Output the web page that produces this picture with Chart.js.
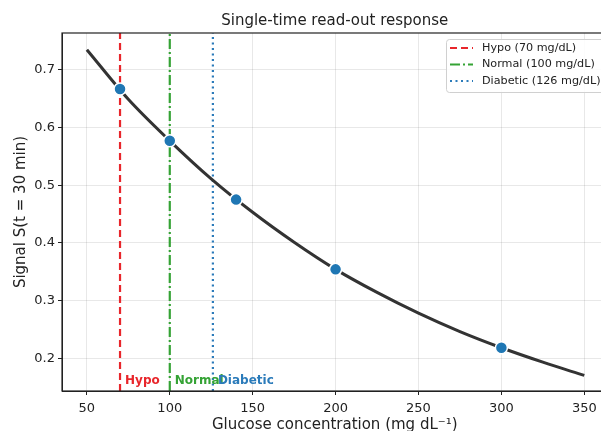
<!DOCTYPE html>
<html>
<head>
<meta charset="utf-8">
<script src="https://cdn.jsdelivr.net/npm/chart.js@4"></script>
<style>
  html, body { margin: 0; padding: 0; background: #fff; overflow: hidden; }
  #wrap { width: 601px; height: 431px; overflow: hidden; }
</style>
</head>
<body>
<div id="wrap"><canvas id="chart" width="615" height="431"></canvas></div>
<script>
// response curve S(t = 30 min) vs glucose
var curveX = [50, 75, 100, 125, 150, 175, 200, 225, 250, 275, 300, 325, 350];
var curveY = [0.735, 0.649, 0.577, 0.511, 0.453, 0.401, 0.354, 0.314, 0.278, 0.246, 0.218, 0.193, 0.170];

// measured samples on the curve
var sampleX = [70, 100, 140, 200, 300];
var sampleY = [0.667, 0.577, 0.475, 0.354, 0.218];

// clinical thresholds
var threshX = [70, 100, 126];
var threshNames = ['Hypo', 'Normal', 'Diabetic'];
var threshLegend = ['Hypo (70 mg/dL)', 'Normal (100 mg/dL)', 'Diabetic (126 mg/dL)'];
var threshColors = ['#e8262b', '#35a335', '#2b7bba'];
var threshDash = [[7, 4], [10, 3, 2, 3], [2, 3.5]];

var xTicks = [50, 100, 150, 200, 250, 300, 350];
var yTicks = [0.2, 0.3, 0.4, 0.5, 0.6, 0.7];

var X_MIN = 35, X_MAX = 364, Y_MIN = 0.143, Y_MAX = 0.764;
var FONT = "'DejaVu Sans', sans-serif";

function xy(xs, ys) {
    return xs.map(function (x, i) { return { x: x, y: ys[i] }; });
}

var datasets = [];
threshX.forEach(function (x, i) {
    datasets.push({
        type: 'line',
        label: threshLegend[i],
        data: [{ x: x, y: Y_MIN }, { x: x, y: Y_MAX }],
        borderColor: threshColors[i],
        borderWidth: 2.2,
        borderDash: threshDash[i],
        pointRadius: 0,
        order: 3
    });
});
datasets.push({
    type: 'line',
    label: 'curve',
    data: xy(curveX, curveY),
    borderColor: '#333333',
    borderWidth: 3,
    pointRadius: 0,
    cubicInterpolationMode: 'monotone',
    order: 2
});
datasets.push({
    type: 'scatter',
    label: 'samples',
    data: xy(sampleX, sampleY),
    backgroundColor: '#1f77b4',
    borderColor: '#ffffff',
    borderWidth: 1.5,
    pointRadius: 6,
    order: 1
});

// frame, title, threshold labels and legend
var decor = {
    id: 'decor',
    afterDraw: function (chart) {
        var ctx = chart.ctx, a = chart.chartArea;
        var xs = chart.scales.x, ys = chart.scales.y;
        ctx.save();

        ctx.strokeStyle = '#222';
        ctx.lineWidth = 1.2;
        ctx.strokeRect(a.left, a.top, a.right - a.left, a.bottom - a.top);

        ctx.fillStyle = '#222';
        ctx.font = '15px ' + FONT;
        ctx.textAlign = 'center';
        ctx.textBaseline = 'middle';
        ctx.fillText('Single-time read-out response', (a.left + a.right) / 2, 21);

        ctx.font = 'bold 12px ' + FONT;
        ctx.textAlign = 'left';
        threshX.forEach(function (x, i) {
            ctx.fillStyle = threshColors[i];
            ctx.fillText(threshNames[i], xs.getPixelForValue(x) + 5, ys.getPixelForValue(0.16));
        });

        var bx = 446, by = 39, bw = 158, bh = 53;
        ctx.fillStyle = 'rgba(255,255,255,0.85)';
        ctx.strokeStyle = '#d0d0d0';
        ctx.lineWidth = 1;
        ctx.beginPath();
        ctx.roundRect(bx + 0.5, by + 0.5, bw, bh, 3);
        ctx.fill();
        ctx.stroke();

        ctx.font = '11.2px ' + FONT;
        threshLegend.forEach(function (t, i) {
            var ly = 48 + i * 16.5;
            ctx.strokeStyle = threshColors[i];
            ctx.lineWidth = 2.2;
            ctx.setLineDash(threshDash[i]);
            ctx.beginPath();
            ctx.moveTo(450, ly);
            ctx.lineTo(473, ly);
            ctx.stroke();
            ctx.setLineDash([]);
            ctx.fillStyle = '#222';
            ctx.fillText(t, 482, ly);
        });
        ctx.restore();
    }
};

new Chart(document.getElementById('chart').getContext('2d'), {
    data: { datasets: datasets },
    options: {
        responsive: false,
        animation: false,
        layout: { padding: { top: 33, right: 4, left: 0, bottom: 0 } },
        plugins: {
            legend: { display: false },
            title: { display: false },
            tooltip: { enabled: false }
        },
        scales: {
            x: {
                type: 'linear',
                min: X_MIN,
                max: X_MAX,
                afterBuildTicks: function (s) { s.ticks = xTicks.map(function (v) { return { value: v }; }); },
                afterFit: function (s) { s.height = 40; },
                grid: { color: 'rgba(0,0,0,0.09)', tickColor: '#222', tickLength: 4 },
                border: { color: '#222' },
                ticks: { color: '#222', font: { family: FONT, size: 13 }, padding: 6, maxRotation: 0 },
                title: {
                    display: true,
                    text: 'Glucose concentration (mg dL\u207B\u00B9)',
                    color: '#222',
                    font: { family: FONT, size: 15 },
                    padding: { top: 0, bottom: -3 }
                }
            },
            y: {
                type: 'linear',
                min: Y_MIN,
                max: Y_MAX,
                afterBuildTicks: function (s) { s.ticks = yTicks.map(function (v) { return { value: v }; }); },
                afterFit: function (s) { s.width = 62; },
                grid: { color: 'rgba(0,0,0,0.09)', tickColor: '#222', tickLength: 4 },
                border: { color: '#222' },
                ticks: {
                    color: '#222',
                    font: { family: FONT, size: 13 },
                    padding: 3,
                    callback: function (v) { return v.toFixed(1); }
                },
                title: {
                    display: true,
                    text: 'Signal S(t = 30 min)',
                    color: '#222',
                    font: { family: FONT, size: 15 },
                    padding: { top: 12, bottom: 4 }
                }
            }
        }
    },
    plugins: [decor]
});
</script>
</body>
</html>
